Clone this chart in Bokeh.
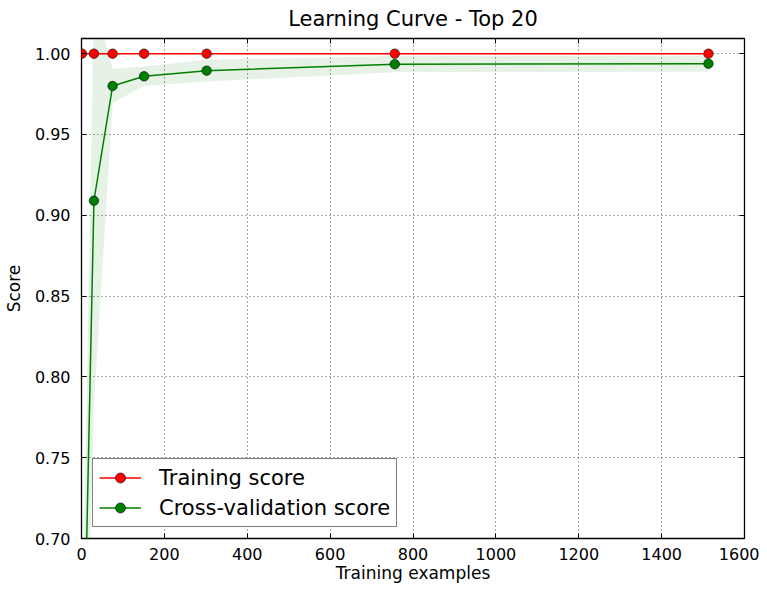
from bokeh.plotting import figure
from bokeh.models import (Range1d, SingleIntervalTicker, NumeralTickFormatter, Legend,
                          LegendItem, LinearAxis, CustomJSTickFormatter)
from bokeh.embed import file_html
from bokeh.resources import INLINE

# data
train_sizes = [1, 30, 75, 151, 302, 756, 1513]
train_mean = [1.0, 1.0, 1.0, 1.0, 1.0, 1.0, 1.0]
train_std = [0.0, 0.0006, 0.0004, 0.0004, 0.0003, 0.0002, 0.0002]
test_mean = [0.56, 0.909, 0.980, 0.986, 0.9895, 0.9935, 0.9938]
test_std = [0.06, 0.126, 0.0105, 0.006, 0.0067, 0.005, 0.005]

title = "Learning Curve - Top 20"
x_label = "Training examples"
y_label = "Score"
x_lim = (0, 1600)
y_lim = (0.70, 1.0094)

FONT = "DejaVu Sans"

p = figure(width=759, height=585, output_backend="svg", toolbar_location=None,
           x_range=Range1d(*x_lim), y_range=Range1d(*y_lim),
           min_border_left=70, min_border_right=15, min_border_top=30, min_border_bottom=41)

p.title.text = title
p.title.align = "center"
p.title.text_font = FONT
p.title.text_font_size = "21px"
p.title.text_font_style = "normal"
p.title.text_color = "black"
p.title.standoff = 8

p.outline_line_color = "black"
p.outline_line_width = 1.3
p.background_fill_color = "white"
p.border_fill_color = "white"

tr_lo = [m - s for m, s in zip(train_mean, train_std)]
tr_hi = [m + s for m, s in zip(train_mean, train_std)]
te_lo = [m - s for m, s in zip(test_mean, test_std)]
te_hi = [m + s for m, s in zip(test_mean, test_std)]

p.varea(x=train_sizes, y1=tr_lo, y2=tr_hi, fill_color="red", fill_alpha=0.1)
p.varea(x=train_sizes, y1=te_lo, y2=te_hi, fill_color="green", fill_alpha=0.1)

l1 = p.line(train_sizes, train_mean, line_color="red", line_width=1.5)
s1 = p.scatter(train_sizes, train_mean, size=9.5, fill_color="red", line_color="black", line_width=0.6)
l2 = p.line(train_sizes, test_mean, line_color="green", line_width=1.5)
s2 = p.scatter(train_sizes, test_mean, size=9.5, fill_color="green", line_color="black", line_width=0.6)

for ax, interval in ((p.xaxis, 200), (p.yaxis, 0.05)):
    ax.ticker = SingleIntervalTicker(interval=interval)
    ax.major_tick_in = 5
    ax.major_tick_out = 0
    ax.minor_tick_line_color = None
    ax.axis_line_color = None
    ax.major_tick_line_color = "black"
    ax.major_label_text_font = FONT
    ax.major_label_text_font_size = "16px"
    ax.major_label_text_color = "black"
    ax.axis_label_text_font = FONT
    ax.axis_label_text_font_size = "17px"
    ax.axis_label_text_font_style = "normal"
    ax.axis_label_text_color = "black"
    ax.major_label_standoff = 7

p.yaxis.formatter = NumeralTickFormatter(format="0.00")
p.yaxis.axis_label = y_label
p.yaxis.axis_label_standoff = 8
p.xaxis.axis_label = x_label
p.xaxis.major_label_standoff = 5
p.xaxis.axis_label_standoff = 0

# ticks on top and right spines
blank = CustomJSTickFormatter(code="return ''")
top = LinearAxis(ticker=SingleIntervalTicker(interval=200), formatter=blank,
                 major_tick_in=5, major_tick_out=0, minor_tick_line_color=None,
                 axis_line_color=None, major_label_text_font_size="0px", major_label_standoff=0)
right = LinearAxis(ticker=SingleIntervalTicker(interval=0.05), formatter=blank,
                   major_tick_in=5, major_tick_out=0, minor_tick_line_color=None,
                   axis_line_color=None, major_label_text_font_size="0px", major_label_standoff=0)
p.add_layout(top, "above")
p.add_layout(right, "right")

p.grid.grid_line_color = "black"
p.grid.grid_line_alpha = 0.7
p.grid.grid_line_dash = "1 3"
p.grid.grid_line_width = 1
p.xgrid.ticker = SingleIntervalTicker(interval=200)
p.ygrid.ticker = SingleIntervalTicker(interval=0.05)

legend = Legend(items=[LegendItem(label="Training score", renderers=[l1, s1]),
                       LegendItem(label="Cross-validation score", renderers=[l2, s2])],
                location="bottom_left")
legend.label_text_font = FONT
legend.label_text_font_size = "21px"
legend.label_text_color = "black"
legend.border_line_color = "black"
legend.border_line_width = 1.5
legend.background_fill_alpha = 1
legend.margin = 11
legend.padding = 6
legend.spacing = 5
legend.glyph_width = 42
legend.glyph_height = 25
legend.label_height = 25
legend.label_standoff = 18
p.add_layout(legend)

open("out.html", "w").write(file_html(p, INLINE))
